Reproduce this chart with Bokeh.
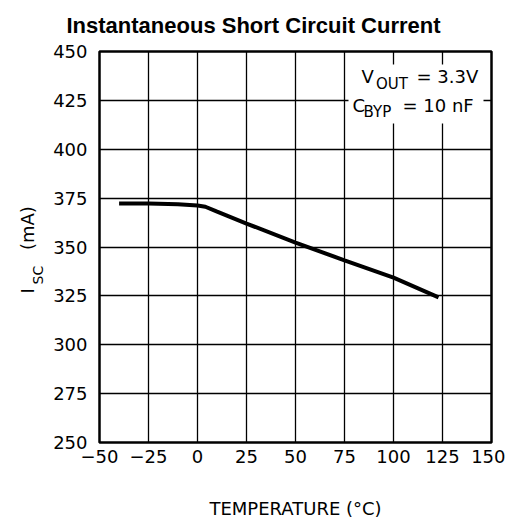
import math
from bokeh.plotting import figure
from bokeh.layouts import row
from bokeh.models import Range1d, FixedTicker, Label, BoxAnnotation
from bokeh.embed import file_html
from bokeh.resources import INLINE

# ---- data ----
temperature_c = [-40, -25, -10, 0, 4, 10, 25, 50, 75, 100, 123]
isc_ma = [372.3, 372.2, 371.9, 371.2, 370.6, 368.1, 362.0, 352.2, 343.2, 334.3, 324.2]
x_ticks = [-50, -25, 0, 25, 50, 75, 100, 125, 150]
y_ticks = [250, 275, 300, 325, 350, 375, 400, 425, 450]

title_text = "Instantaneous Short Circuit Current"
x_title = "TEMPERATURE (°C)"
y_title_main = "I"
y_title_sub = "SC"
y_title_unit = "(mA)"
note1_main, note1_sub, note1_rest = "V", "OUT", "= 3.3V"
note2_main, note2_sub, note2_rest = "C", "BYP", "= 10 nF"

# ---- layout (page pixels) ----
X_LO, X_HI = x_ticks[0], x_ticks[-1]
Y_LO, Y_HI = y_ticks[0], y_ticks[-1]
LEFT, TOP, FW, FH = 99, 51, 392, 391
BOTTOM_BORDER = 80
SIDE_W = 46            # strip holding the rotated y title


def dx(px):
    return X_LO + (px - LEFT) * (X_HI - X_LO) / FW


def dy(py):
    return Y_HI - (py - TOP) * (Y_HI - Y_LO) / FH


FONT = "DejaVu Sans"

p = figure(frame_width=FW, frame_height=FH,
           x_range=Range1d(X_LO, X_HI), y_range=Range1d(Y_LO, Y_HI),
           output_backend="svg", toolbar_location=None,
           min_border_left=LEFT - SIDE_W, min_border_right=14,
           min_border_top=TOP, min_border_bottom=BOTTOM_BORDER)
p.background_fill_color = "white"
p.border_fill_color = "white"
p.outline_line_color = "black"
p.outline_line_width = 2.5

# title
p.title.text = title_text
p.title.align = "left"
p.title.offset = -33
p.title.vertical_align = "top"
p.title.standoff = 24
p.title.text_font = "Liberation Sans"
p.title.text_font_size = "22px"
p.title.text_font_style = "bold"
p.title.text_color = "black"

p.xaxis.ticker = FixedTicker(ticks=x_ticks)
p.yaxis.ticker = FixedTicker(ticks=y_ticks)
p.xgrid.ticker = FixedTicker(ticks=x_ticks)
p.ygrid.ticker = FixedTicker(ticks=y_ticks)
for g in (p.xgrid, p.ygrid):
    g.grid_line_color = "black"
    g.grid_line_width = 1.3
    g.grid_line_alpha = 1.0

for ax in (p.xaxis, p.yaxis):
    ax.axis_line_color = None
    ax.major_tick_line_color = None
    ax.minor_tick_line_color = None
    ax.major_tick_out = 0
    ax.major_tick_in = 0
    ax.minor_tick_out = 0
    ax.major_label_text_font = FONT
    ax.major_label_text_font_size = "18px"
    ax.major_label_text_color = "black"
p.xaxis.major_label_standoff = 7
p.yaxis.major_label_standoff = 12

p.xaxis.axis_label = x_title
p.xaxis.axis_label_text_font = FONT
p.xaxis.axis_label_text_font_size = "18px"
p.xaxis.axis_label_text_font_style = "normal"
p.xaxis.axis_label_text_color = "black"
p.xaxis.axis_label_standoff = 32

p.line(temperature_c, isc_ma, line_color="black", line_width=4)

# white box behind the condition notes
p.add_layout(BoxAnnotation(left=dx(348), right=dx(483), top=dy(64), bottom=dy(123),
                           fill_color="white", fill_alpha=1.0, line_color=None))


def note(text, px, py, size):
    p.add_layout(Label(x=dx(px), y=dy(py), text=text, text_align="left",
                       text_baseline="alphabetic", text_font=FONT,
                       text_font_size=size, text_color="black"))


note(note1_main, 361, 76.3, "18px")
note(note1_sub, 375.5, 83, "15px")
note(note1_rest, 416, 76.3, "18px")
note(note2_main, 352, 104.7, "18px")
note(note2_sub, 363, 111, "15px")
note(note2_rest, 402, 104.7, "18px")

# ---- left strip with the rotated y title; its frame matches the main frame
# vertically, so its y data equal page pixels ----
side = figure(title=None, frame_width=SIDE_W, frame_height=FH,
              x_range=Range1d(0, SIDE_W), y_range=Range1d(TOP + FH, TOP),
              output_backend="svg", toolbar_location=None,
              x_axis_location=None, y_axis_location=None,
              min_border_left=0, min_border_right=0,
              min_border_top=TOP, min_border_bottom=BOTTOM_BORDER)
side.outline_line_color = None
side.background_fill_color = "white"
side.border_fill_color = "white"
for g in side.grid:
    g.visible = False


def ylab(text, px, py, size):
    side.add_layout(Label(x=px, y=py, text=text, angle=math.pi / 2,
                          text_align="left", text_baseline="alphabetic",
                          text_font=FONT, text_font_size=size, text_color="black"))


ylab(y_title_main, 26.7, 293, "18px")
ylab(y_title_sub, 37.3, 284, "14px")
ylab(y_title_unit, 26.7, 249.5, "18px")

layout = row(side, p)
open("out.html", "w").write(file_html(layout, INLINE))
